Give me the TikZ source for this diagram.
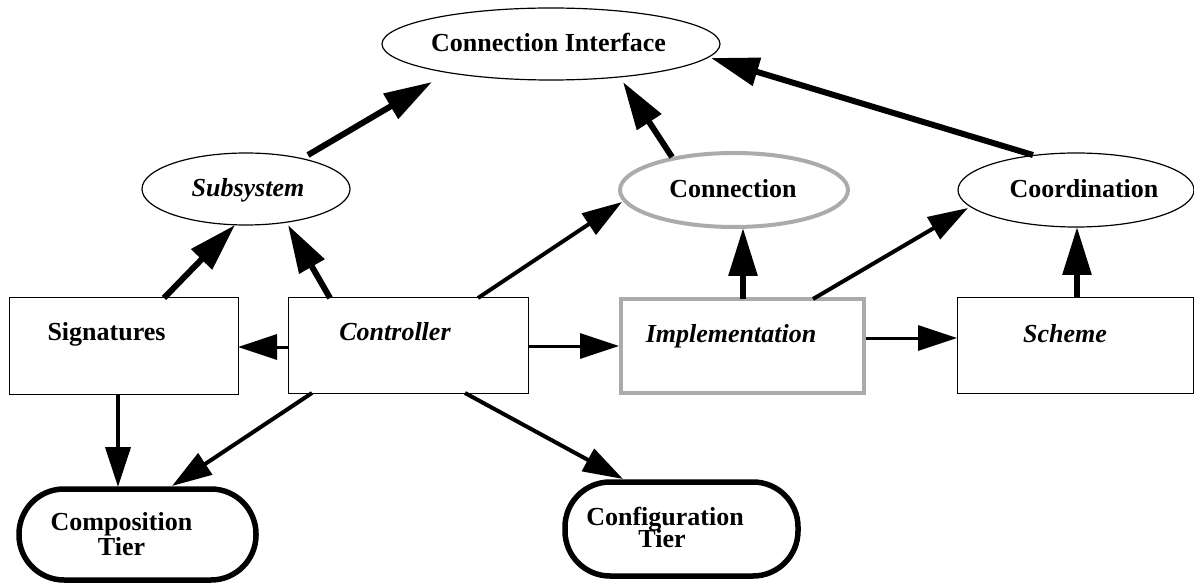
\documentclass[tikz,border=0pt]{standalone}
\usepackage{fontspec}
\setmainfont{Liberation Serif}
\usetikzlibrary{shapes.geometric,arrows.meta,calc}
\begin{document}
\begin{tikzpicture}[x=1pt,y=-1pt,
  lbl/.style={font=\fontsize{26}{28}\selectfont\bfseries, inner sep=0pt, anchor=base},
  ilbl/.style={lbl, font=\fontsize{26}{28}\selectfont\bfseries\itshape},
  oval/.style={ellipse, draw, line width=1.2pt, inner sep=0pt},
  goval/.style={oval, draw=black!33, line width=4pt},
  box/.style={rectangle, draw, line width=1pt, inner sep=0pt},
  gbox/.style={box, draw=black!33, line width=4pt},
  tier/.style={rectangle, draw, line width=5.5pt, rounded corners=45pt, inner sep=0pt},
  heavy/.style={line width=6pt, -{Triangle[length=48pt,width=28pt]}},
  medium/.style={line width=4pt, -{Triangle[length=40pt,width=25pt]}},
  light/.style={line width=3pt, -{Triangle[length=39pt,width=25pt]}}]
\useasboundingbox (0,0) rectangle (1194,585);

% ovals
\node[oval, minimum width=338, minimum height=72] (ci)  at (551,44)  {};
\node[oval, minimum width=208, minimum height=72] (sub) at (246,189) {};
\node[goval, minimum width=228, minimum height=74] (con) at (734,190) {};
\node[oval, minimum width=236, minimum height=74] (coo) at (1076,190) {};

% boxes
\node[box,  minimum width=229, minimum height=96] (sig) at (123.5,346) {};
\node[box,  minimum width=240, minimum height=95] (ctl) at (408,345.5) {};
\node[gbox, minimum width=243, minimum height=94] (imp) at (742.5,346) {};
\node[box,  minimum width=236, minimum height=95] (sch) at (1075,345.5) {};

% tiers
\node[tier, minimum width=237, minimum height=91] (comp) at (137.5,534.5) {};
\node[tier, minimum width=233, minimum height=94] (conf) at (681.5,529) {};

% labels
\node[lbl]  (tci)  at (548.5,52)  {Connection Interface};
\node[ilbl] (tsub) at (248,197)   {Subsystem};
\node[lbl]  (tcon) at (733,198)   {Connection};
\node[lbl]  (tcoo) at (1084,198)  {Coordination};
\node[lbl]  (tsig) at (106.5,341) {Signatures};
\node[ilbl] (tctl) at (395,341)   {Controller};
\node[ilbl] (timp) at (731,342)   {Implementation};
\node[ilbl] (tsch) at (1065,342)  {Scheme};
\node[lbl]  (tcomp1) at (121.5,530) {Composition};
\node[lbl]  (tcomp2) at (121.5,555) {Tier};
\node[lbl]  (tconf1) at (665,525) {Configuration};
\node[lbl]  (tconf2) at (662,547) {Tier};

% connectors
\draw[heavy] ($(sig.center)+(40.5,-48)$) -- ($(sub.center)+(-11,36)$);
\draw[heavy] ($(ctl.center)+(-78,-47.5)$) -- ($(sub.center)+(42,36)$);
\draw[heavy] ($(sub.center)+(62,-34)$) -- ($(ci.center)+(-119,38)$);
\draw[heavy] ($(con.center)+(-62,-33)$) -- ($(ci.center)+(72,38)$);
\draw[heavy] ($(coo.center)+(-43,-35)$) -- ($(ci.center)+(160,14)$);
\draw[medium] ($(ctl.center)+(70,-47.5)$) -- ($(con.center)+(-112,12)$);
\draw[heavy] ($(imp.center)+(0.5,-47)$) -- ($(con.center)+(9,38)$);
\draw[medium] ($(imp.center)+(70.5,-47)$) -- ($(coo.center)+(-108,18)$);
\draw[heavy] ($(sch.center)+(2,-47.5)$) -- ($(coo.center)+(1,37)$);
\draw[light] ($(ctl.center)+(-120,1.5)$) -- ($(sig.center)+(114.5,1)$);
\draw[light] ($(ctl.center)+(120,0.5)$) -- ($(imp.center)+(-123.5,0)$);
\draw[light] ($(imp.center)+(123.5,-8)$) -- ($(sch.center)+(-118,-7.5)$);
\draw[medium] ($(sig.center)+(-5.5,48)$) -- ($(comp.center)+(-19.5,-47.5)$);
\draw[medium] ($(ctl.center)+(-96,47.5)$) -- ($(comp.center)+(34.5,-48.5)$);
\draw[medium] ($(ctl.center)+(57,47.5)$) -- ($(conf.center)+(-58.5,-50)$);
\end{tikzpicture}
\end{document}
